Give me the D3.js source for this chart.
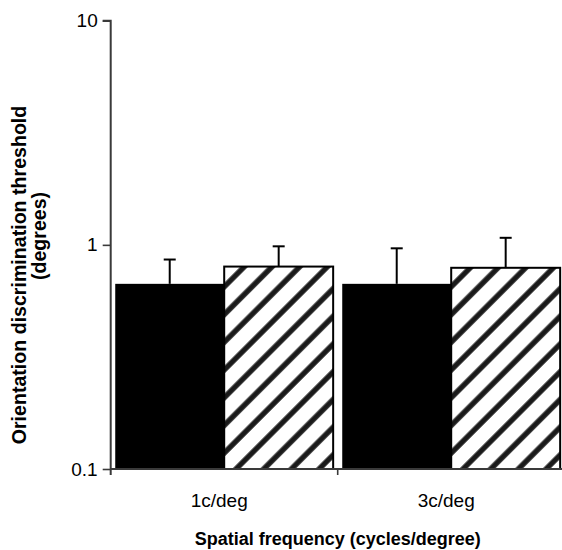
<!DOCTYPE html>
<html>
<head>
<meta charset="utf-8">
<script src="https://cdn.jsdelivr.net/npm/d3@7"></script>
<style>
  html, body { margin: 0; padding: 0; background: #fff; }
  svg { display: block; font-family: "Liberation Sans", Arial, Helvetica, sans-serif; }
</style>
</head>
<body>
<svg id="chart" width="562" height="550"></svg>
<script>
// Spatial frequency conditions and the two measured series (degrees)
const categories = ["1c/deg", "3c/deg"];
const seriesNames = ["solid", "hatched"];
const solidValues = [0.67, 0.67];
const hatchedValues = [0.80, 0.79];
const solidErrorTops = [0.86, 0.965];
const hatchedErrorTops = [0.985, 1.075];
const yTickValues = [0.1, 1, 10];
const yTickLabels = ["0.1", "1", "10"];

const data = categories.map((c, i) => ({
  category: c,
  bars: [
    { series: "solid", value: solidValues[i], err: solidErrorTops[i] },
    { series: "hatched", value: hatchedValues[i], err: hatchedErrorTops[i] }
  ]
}));

const svg = d3.select("#chart");
const axisX0 = 110.7, axisX1 = 564.7;
const yTop = 20.7, yBottom = 469;

const y = d3.scaleLog().domain([0.1, 10]).range([yBottom, yTop]);
const x0 = d3.scaleBand().domain(categories).range([axisX0, axisX1])
  .paddingInner(0.04).paddingOuter(0.02);
const x1 = d3.scaleBand().domain(seriesNames).range([0, x0.bandwidth()]);

// diagonal hatch fill
const defs = svg.append("defs");
const pat = defs.append("pattern")
  .attr("id", "hatch")
  .attr("patternUnits", "userSpaceOnUse")
  .attr("width", 19.6).attr("height", 19.6)
  .attr("patternTransform", "translate(2,0) rotate(45)");
pat.append("rect").attr("width", 19.6).attr("height", 19.6).attr("fill", "#fff");
pat.append("line")
  .attr("x1", 4).attr("x2", 4).attr("y1", 0).attr("y2", 19.6)
  .attr("stroke", "#1a1a1a").attr("stroke-width", 5.4);

// bars
const groups = svg.append("g").selectAll("g")
  .data(data).join("g")
  .attr("transform", d => `translate(${x0(d.category)},0)`);

groups.selectAll("rect")
  .data(d => d.bars).join("rect")
  .attr("x", d => x1(d.series))
  .attr("y", d => y(d.value))
  .attr("width", x1.bandwidth())
  .attr("height", d => y(0.1) - y(d.value))
  .attr("fill", d => d.series === "solid" ? "#000" : "url(#hatch)")
  .attr("stroke", "#000")
  .attr("stroke-width", d => d.series === "solid" ? 0 : 2);

// upward error bars
const err = groups.selectAll("g.err")
  .data(d => d.bars).join("g").attr("class", "err");
err.append("line")
  .attr("x1", d => x1(d.series) + x1.bandwidth() / 2)
  .attr("x2", d => x1(d.series) + x1.bandwidth() / 2)
  .attr("y1", d => y(d.value))
  .attr("y2", d => y(d.err))
  .attr("stroke", "#000").attr("stroke-width", 2);
err.append("line")
  .attr("x1", d => x1(d.series) + x1.bandwidth() / 2 - 6)
  .attr("x2", d => x1(d.series) + x1.bandwidth() / 2 + 6)
  .attr("y1", d => y(d.err))
  .attr("y2", d => y(d.err))
  .attr("stroke", "#000").attr("stroke-width", 2);

// y axis
const yAxis = d3.axisLeft(y)
  .tickValues(yTickValues)
  .tickFormat((d, i) => yTickLabels[i])
  .tickSize(8).tickPadding(5);
const gy = svg.append("g").attr("transform", `translate(${axisX0},0)`).call(yAxis);
gy.select(".domain").attr("d", `M-8,${yTop}H0V${yBottom + 6}`)
  .attr("stroke", "#3a3a3a").attr("stroke-width", 2).attr("fill", "none");
gy.selectAll(".tick line").attr("stroke", "#3a3a3a").attr("stroke-width", 1.6);
gy.selectAll(".tick text")
  .attr("font-size", 19).attr("fill", "#000")
  .attr("font-family", "'Liberation Sans', Arial, sans-serif");

// x axis with boundary ticks between categories
const gx = svg.append("g").attr("transform", `translate(0,${yBottom})`);
gx.append("line").attr("x1", axisX0).attr("x2", axisX1)
  .attr("stroke", "#3a3a3a").attr("stroke-width", 2);
const boundaries = categories.map(c => x0(c) - x0.step() * x0.paddingInner() / 2)
  .concat([axisX1]).slice(1);
gx.selectAll("line.sep").data(boundaries).join("line").attr("class", "sep")
  .attr("x1", d => d).attr("x2", d => d).attr("y1", 0).attr("y2", 6)
  .attr("stroke", "#3a3a3a").attr("stroke-width", 1.6);
gx.selectAll("text").data(categories).join("text")
  .attr("x", c => x0(c) + x0.bandwidth() / 2 - 5)
  .attr("y", 38)
  .attr("text-anchor", "middle")
  .attr("font-size", 19)
  .text(c => c);

// axis titles
svg.append("text")
  .attr("x", (axisX0 + axisX1) / 2)
  .attr("y", 545)
  .attr("text-anchor", "middle")
  .attr("font-size", 18).attr("font-weight", "bold")
  .text("Spatial frequency (cycles/degree)");

svg.append("text")
  .attr("transform", "translate(26,275) rotate(-90)")
  .attr("text-anchor", "middle")
  .attr("font-size", 19.6).attr("font-weight", "bold")
  .text("Orientation discrimination threshold");
svg.append("text")
  .attr("transform", "translate(46,236) rotate(-90)")
  .attr("text-anchor", "middle")
  .attr("font-size", 19.6).attr("font-weight", "bold")
  .text("(degrees)");
</script>
</body>
</html>
